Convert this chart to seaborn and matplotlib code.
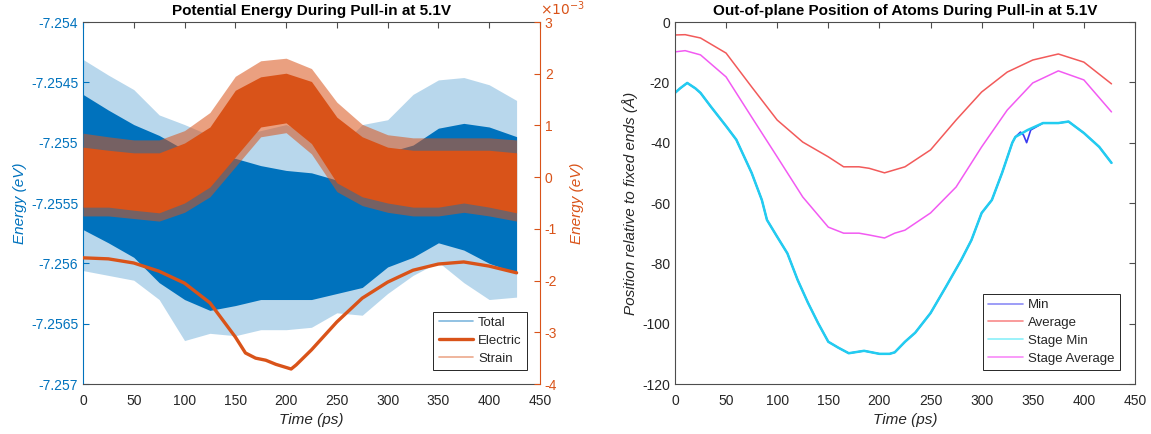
import numpy as np
import pandas as pd
import matplotlib
matplotlib.use("Agg")
import matplotlib.pyplot as plt
import seaborn as sns
from matplotlib.lines import Line2D
from matplotlib.ticker import FuncFormatter, MultipleLocator

# ---------------- data ----------------
# Left panel: envelope of the noisy series, sampled every 25 ps
t_env = [0, 25, 50, 75, 100, 125, 150, 175, 200, 225, 250, 275, 300, 325, 350, 375, 400, 427]
total_hi = [-7.25460, -7.25473, -7.25485, -7.25494, -7.25506, -7.25513, -7.25513, -7.25519, -7.25523,
            -7.25525, -7.25531, -7.25521, -7.25508, -7.25502, -7.25488, -7.25484, -7.25487, -7.25495]
total_lo = [-7.25572, -7.25583, -7.25595, -7.25616, -7.25630, -7.25639, -7.25635, -7.25630, -7.25630,
            -7.25630, -7.25625, -7.25620, -7.25603, -7.25595, -7.25583, -7.25589, -7.25600, -7.25608]
total_spike_hi = [-7.25431, -7.25444, -7.25456, -7.25477, -7.25485, -7.25494, -7.25494, -7.25490, -7.25485,
                  -7.25494, -7.25506, -7.25485, -7.25481, -7.25460, -7.25448, -7.25446, -7.25452, -7.25465]
total_spike_lo = [-7.25606, -7.25610, -7.25614, -7.25630, -7.25664, -7.25658, -7.25660, -7.25655, -7.25655,
                  -7.25653, -7.25641, -7.25643, -7.25625, -7.25610, -7.25599, -7.25616, -7.25630, -7.25628]
# strain energy (x1e-3 eV)
strain_hi = [0.58, 0.52, 0.47, 0.47, 0.66, 0.97, 1.68, 1.94, 2.01, 1.85, 1.16, 0.78, 0.58, 0.52, 0.52, 0.52, 0.52, 0.47]
strain_lo = [-0.58, -0.58, -0.64, -0.69, -0.50, -0.19, 0.39, 0.97, 1.05, 0.65, -0.11, -0.38, -0.50, -0.58, -0.58, -0.50, -0.58, -0.69]
strain_spike_hi = [0.85, 0.78, 0.72, 0.72, 0.90, 1.25, 1.95, 2.25, 2.30, 2.10, 1.45, 1.02, 0.82, 0.76, 0.76, 0.76, 0.76, 0.72]
strain_spike_lo = [-0.75, -0.75, -0.80, -0.85, -0.68, -0.38, 0.20, 0.78, 0.86, 0.45, -0.28, -0.55, -0.68, -0.75, -0.75, -0.68, -0.75, -0.85]
# electric energy (x1e-3 eV)
elec_t = [0, 25, 50, 75, 100, 125, 150, 160, 170, 180, 190, 200, 205, 210, 225, 250, 275, 300, 325, 350, 375, 400, 427]
elec_v = [-1.56, -1.58, -1.66, -1.82, -2.05, -2.43, -3.09, -3.40, -3.50, -3.54, -3.62, -3.68, -3.71, -3.63,
          -3.34, -2.80, -2.34, -2.03, -1.80, -1.68, -1.64, -1.72, -1.85]

# Right panel: positions (Angstrom)
avg_t = [0, 10, 25, 50, 75, 100, 125, 150, 165, 180, 190, 205, 215, 225, 250, 275, 300, 325, 350, 375, 400, 427]
avg_v = [-4.3, -4.2, -5.3, -10.3, -21.5, -32.5, -39.8, -44.7, -48.0, -48.0, -48.5, -50.0, -49.0, -48.0,
         -42.4, -32.5, -23.2, -16.6, -12.6, -10.6, -13.3, -20.5]
savg_v = [-9.9, -9.5, -10.9, -18.2, -31.5, -44.7, -58.0, -68.0, -70.0, -70.0, -70.6, -71.6, -70.0, -69.0,
          -63.3, -54.7, -41.4, -29.2, -20.2, -16.2, -19.2, -29.8]
smin_t = [0, 5, 12, 20, 25, 35, 50, 60, 75, 85, 90, 100, 110, 120, 130, 140, 150, 160, 170, 185, 200, 210,
          215, 225, 235, 250, 265, 280, 290, 300, 310, 320, 330, 333, 345, 360, 375, 385, 400, 415, 427]
smin_v = [-23.5, -22.0, -20.2, -22.0, -23.5, -28.0, -34.5, -39.0, -50.0, -59.0, -65.6, -71.2, -76.7, -85.5,
          -93.0, -99.8, -106.0, -108.0, -109.8, -109.0, -110.0, -110.0, -109.5, -106.0, -103.0, -96.5, -87.8,
          -78.9, -72.3, -63.3, -59.0, -50.0, -40.0, -38.1, -35.8, -33.5, -33.5, -33.0, -36.8, -41.4, -46.7]
min_t = [0, 5, 12, 20, 25, 35, 50, 60, 75, 85, 90, 100, 110, 120, 130, 140, 150, 160, 170, 185, 200, 210,
         215, 225, 235, 250, 265, 280, 290, 300, 310, 320, 330, 333, 338, 341, 344, 348, 360, 375, 385, 400, 415, 427]
min_v = [-23.5, -22.0, -20.2, -22.0, -23.5, -28.0, -34.5, -39.0, -50.0, -59.0, -65.6, -71.2, -76.7, -85.5,
         -93.0, -99.8, -106.0, -108.0, -109.8, -109.0, -110.0, -110.0, -109.5, -106.0, -103.0, -96.5, -87.8,
         -78.9, -72.3, -63.3, -59.0, -50.0, -40.0, -38.1, -36.5, -37.5, -40.0, -35.8, -33.5, -33.5, -33.0,
         -36.8, -41.4, -46.7]

x_ticks = [0, 50, 100, 150, 200, 250, 300, 350, 400, 450]

# ---------------- style ----------------
sns.set_theme(style="white")
plt.rcParams["font.family"] = ["Liberation Sans", "DejaVu Sans"]
plt.rcParams["axes.unicode_minus"] = False

BLUE = "#0072BD"
ORANGE = "#D95319"
TXT = "#262626"
SPINE = "#4d4d4d"

fig = plt.figure(figsize=(11.51, 4.34), dpi=100)
ax = fig.add_axes([0.0721, 0.1152, 0.3970, 0.8341])
axr = fig.add_axes([0.5864, 0.1152, 0.3997, 0.8341])
ax2 = ax.twinx()

# ---------------- left panel ----------------
te = np.array(t_env)
ax.fill_between(te, total_spike_lo, total_spike_hi, color=BLUE, alpha=0.28, lw=0)
ax.fill_between(te, total_lo, total_hi, color=BLUE, alpha=1.0, lw=0)

ax2.fill_between(te, np.array(strain_spike_lo) * 1e-3, np.array(strain_spike_hi) * 1e-3,
                 color=ORANGE, alpha=0.55, lw=0)
ax2.fill_between(te, np.array(strain_lo) * 1e-3, np.array(strain_hi) * 1e-3, color=ORANGE, lw=0)
sns.lineplot(x=elec_t, y=np.array(elec_v) * 1e-3, ax=ax2, color=ORANGE, lw=2.4, legend=False)

ax.set_xlim(0, 450)
ax.set_ylim(-7.257, -7.254)
ax2.set_ylim(-4e-3, 3e-3)
ax.set_xticks(x_ticks)
ax.yaxis.set_major_locator(MultipleLocator(0.0005))
ax.yaxis.set_major_formatter(FuncFormatter(lambda v, p: f"{v:g}"))
ax2.yaxis.set_major_locator(MultipleLocator(1e-3))
ax2.yaxis.set_major_formatter(FuncFormatter(lambda v, p: f"{round(v * 1e3):d}"))
ax2.text(1.0, 1.01, r"$\times10^{-3}$", transform=ax2.transAxes, ha="left", va="bottom",
         color=ORANGE, fontsize=10)

ax.tick_params(axis="x", colors=SPINE, labelcolor=TXT, labelsize=10, direction="in", top=True,
               length=4, width=0.8, pad=7.5)
ax.tick_params(axis="y", colors=BLUE, labelsize=10, direction="in", right=False, length=4, width=0.8)
ax2.tick_params(axis="y", colors=ORANGE, labelsize=10, direction="in", length=4, width=0.8)
for s in ["top", "bottom"]:
    ax.spines[s].set_color(SPINE)
    ax.spines[s].set_linewidth(0.8)
ax.spines["left"].set_color(BLUE)
ax.spines["left"].set_linewidth(0.8)
ax.spines["right"].set_visible(False)
for s in ["top", "bottom", "left"]:
    ax2.spines[s].set_visible(False)
ax2.spines["right"].set_color(ORANGE)
ax2.spines["right"].set_linewidth(0.8)

ax.set_title("Potential Energy During Pull-in at 5.1V", fontweight="bold", fontsize=11, color="black", pad=5)
ax.set_xlabel("Time (ps)", style="italic", fontsize=11, color=TXT, labelpad=3)
ax.set_ylabel("Energy (eV)", style="italic", fontsize=11, color=BLUE, labelpad=3)
ax2.set_ylabel("Energy (eV)", style="italic", fontsize=11, color=ORANGE, labelpad=9)

handles = [Line2D([], [], color="#7fb8de", lw=1.2),
           Line2D([], [], color=ORANGE, lw=2.4),
           Line2D([], [], color="#eca98c", lw=1.2)]
leg = ax2.legend(handles, ["Total", "Electric", "Strain"], loc="lower right",
                 bbox_to_anchor=(0.972, 0.039), borderaxespad=0, fontsize=9.5, handlelength=2.6,
                 handletextpad=0.4, borderpad=0.4, labelspacing=0.42, fancybox=False, framealpha=1,
                 edgecolor=TXT)
leg.get_frame().set_linewidth(0.7)

# ---------------- right panel ----------------
df = pd.concat([
    pd.DataFrame({"t": min_t, "v": min_v, "series": "Min"}),
    pd.DataFrame({"t": avg_t, "v": avg_v, "series": "Average"}),
    pd.DataFrame({"t": smin_t, "v": smin_v, "series": "Stage Min"}),
    pd.DataFrame({"t": avg_t, "v": savg_v, "series": "Stage Average"}),
], ignore_index=True)
palette = {"Min": "#3a3af0", "Average": "#f25a5a", "Stage Min": "#22cdf0", "Stage Average": "#f25af2"}
widths = {"Min": 1.2, "Average": 1.1, "Stage Min": 1.8, "Stage Average": 1.1}
for name in ["Min", "Average", "Stage Min", "Stage Average"]:
    sub = df[df["series"] == name]
    sns.lineplot(data=sub, x="t", y="v", ax=axr, color=palette[name], lw=widths[name],
                 estimator=None, sort=False, legend=False)

axr.set_xlim(0, 450)
axr.set_ylim(-120, 0)
axr.set_xticks(x_ticks)
axr.set_yticks([0, -20, -40, -60, -80, -100, -120])
axr.tick_params(axis="both", colors=SPINE, labelcolor=TXT, labelsize=10, direction="in",
                top=True, right=True, length=4, width=0.8)
axr.tick_params(axis="x", pad=7.5)
for s in axr.spines.values():
    s.set_color(SPINE)
    s.set_linewidth(0.8)
axr.set_title("Out-of-plane Position of Atoms During Pull-in at 5.1V", fontweight="bold", fontsize=11,
              color="black", pad=5)
axr.set_xlabel("Time (ps)", style="italic", fontsize=11, color=TXT, labelpad=3)
axr.set_ylabel("Position relative to fixed ends (Å)", style="italic", fontsize=11, color=TXT, labelpad=3)

rhandles = [Line2D([], [], color="#8c8cf6", lw=1.2), Line2D([], [], color="#f88a8a", lw=1.2),
            Line2D([], [], color="#8af0fa", lw=1.2), Line2D([], [], color="#f88af8", lw=1.2)]
rleg = axr.legend(rhandles, ["Min", "Average", "Stage Min", "Stage Average"], loc="lower right",
                  bbox_to_anchor=(0.967, 0.039), borderaxespad=0, fontsize=9.5, handlelength=2.6,
                  handletextpad=0.4, borderpad=0.4, labelspacing=0.42, fancybox=False, framealpha=1,
                  edgecolor=TXT)
rleg.get_frame().set_linewidth(0.7)

fig.savefig("out.png", dpi=100, facecolor="white")
